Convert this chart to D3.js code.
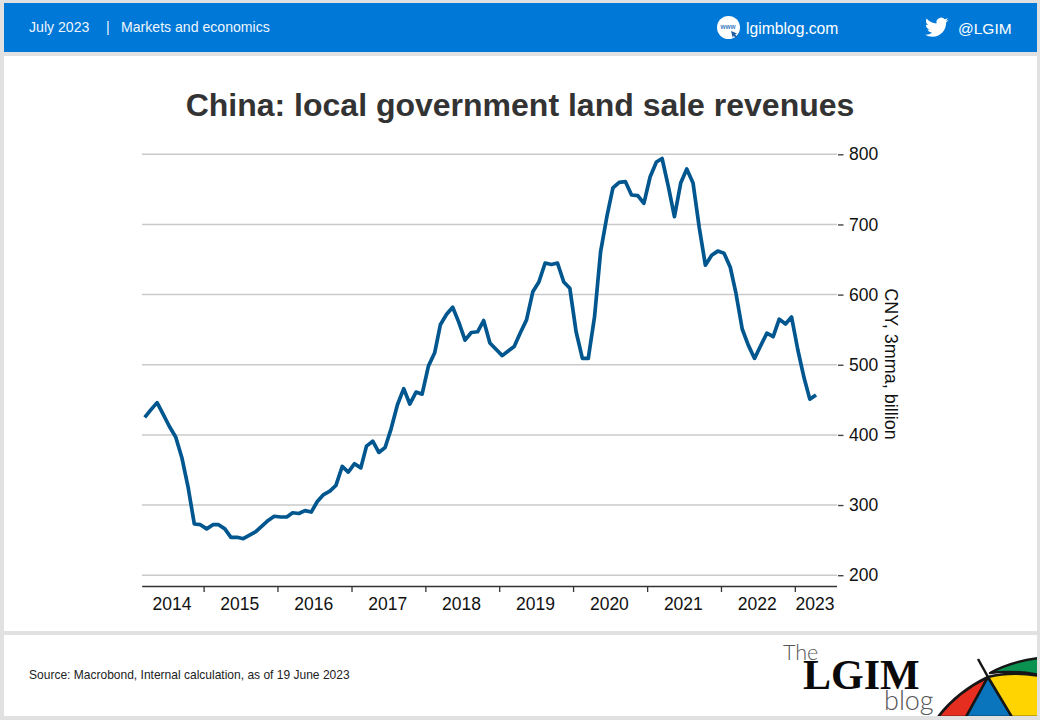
<!DOCTYPE html>
<html>
<head>
<meta charset="utf-8">
<script src="https://cdn.jsdelivr.net/npm/d3@7"></script>
<style>
  html, body { margin: 0; padding: 0; background: #e1e1e1; }
  svg { display: block; font-family: "Liberation Sans", Arial, sans-serif; }
</style>
</head>
<body>
<div id="chart"></div>
<script>
// monthly, 3mma, CNY bn, Mar 2014 to Apr 2023
var revenues = [
  425, 436, 446, 429, 412, 397, 367, 326, 273, 272,
  266, 272, 272, 266, 254, 254, 252, 257, 262, 270,
  278, 284, 283, 283, 289, 288, 292, 290, 305, 315,
  320, 328, 355, 347, 359, 353, 384, 391, 375, 382,
  409, 443, 466, 444, 461, 458, 498, 517, 557, 572,
  582, 560, 535, 546, 547, 563, 531, 522, 513, 520,
  526, 546, 564, 604, 618, 645, 643, 645, 618, 609,
  547, 509, 509, 568, 661, 711, 752, 760, 761, 742,
  741, 730, 768, 789, 794, 754, 711, 759, 779, 759,
  695, 642, 656, 662, 659, 639, 602, 551, 528, 509,
  527, 545, 540, 565, 558, 568, 521, 481, 451, 457
];
var yearLabels = ["2014", "2015", "2016", "2017", "2018", "2019", "2020", "2021", "2022", "2023"];
var yTicks = [200, 300, 400, 500, 600, 700, 800];

var titleText = "China: local government land sale revenues";
var axisTitle = "CNY, 3mma, billion";
var sourceText = "Source: Macrobond, Internal calculation, as of 19 June 2023";

var width = 1040, height = 720;

var svg = d3.select("#chart").append("svg")
    .attr("width", width)
    .attr("height", height);

// page panels
svg.append("rect").attr("width", width).attr("height", height).attr("fill", "#e1e1e1");
svg.append("rect").attr("x", 4).attr("y", 3).attr("width", 1033).attr("height", 49).attr("fill", "#0078d7");
svg.append("rect").attr("x", 4).attr("y", 56).attr("width", 1033).attr("height", 575).attr("fill", "#fff");
svg.append("rect").attr("x", 4).attr("y", 635).attr("width", 1033).attr("height", 81).attr("fill", "#fff");

// header
var header = svg.append("g").attr("fill", "#eef5fc");
header.append("text").attr("x", 29).attr("y", 32).attr("font-size", 14.1).text("July 2023");
header.append("text").attr("x", 106).attr("y", 32).attr("font-size", 14.1).text("|");
header.append("text").attr("x", 121).attr("y", 32).attr("font-size", 14.1).text("Markets and economics");
header.append("text").attr("x", 746).attr("y", 34).attr("font-size", 15.7).attr("fill", "#fff").text("lgimblog.com");
header.append("text").attr("x", 958).attr("y", 34).attr("font-size", 15.5).attr("fill", "#fff").text("@LGIM");

header.append("circle").attr("cx", 728.5).attr("cy", 27.5).attr("r", 11.5).attr("fill", "#fff");
header.append("text").attr("x", 728).attr("y", 29).attr("text-anchor", "middle")
    .attr("font-size", 6.5).attr("font-weight", "bold").attr("fill", "#3f7fc4").text("www");
header.append("path").attr("d", "M731 31l6 2.5-2 1 2 2-1.2 1.2-2-2-1 2z").attr("fill", "#1d5c9e");

header.append("path")
    .attr("transform", "translate(925,15.5) scale(0.98)")
    .attr("fill", "#fff")
    .attr("d", "M23.953 4.57a10 10 0 01-2.825.775 4.958 4.958 0 002.163-2.723c-.951.555-2.005.959-3.127 1.184a4.92 4.92 0 00-8.384 4.482C7.69 8.095 4.067 6.13 1.64 3.162a4.822 4.822 0 00-.666 2.475c0 1.71.87 3.213 2.188 4.096a4.904 4.904 0 01-2.228-.616v.06a4.923 4.923 0 003.946 4.827 4.996 4.996 0 01-2.212.085 4.936 4.936 0 004.604 3.417 9.867 9.867 0 01-6.102 2.105c-.39 0-.779-.023-1.17-.067a13.995 13.995 0 007.557 2.209c9.053 0 13.998-7.496 13.998-13.985 0-.21 0-.42-.015-.63A9.935 9.935 0 0024 4.59z");

// title
svg.append("text")
    .attr("x", 520).attr("y", 116)
    .attr("text-anchor", "middle")
    .attr("font-size", 32).attr("font-weight", "bold")
    .attr("fill", "#333")
    .text(titleText);

// scales
var startDate = new Date(Date.UTC(2014, 2, 1));
var endDate = new Date(Date.UTC(2023, 6, 26));
var months = d3.utcMonth.range(startDate, new Date(Date.UTC(2023, 4, 1)));
var years = d3.utcYear.range(new Date(Date.UTC(2015, 0, 1)), new Date(Date.UTC(2024, 0, 1)));

var x = d3.scaleUtc().domain([startDate, endDate]).range([141.7, 836.5]);
var y = d3.scaleLinear().domain([200, 800]).range([575.2, 154.3]);

// grid
svg.append("g")
    .selectAll("line")
    .data(yTicks)
    .enter().append("line")
      .attr("x1", 142).attr("x2", 837)
      .attr("y1", function(d) { return y(d); })
      .attr("y2", function(d) { return y(d); })
      .attr("stroke", "#cacaca")
      .attr("stroke-width", 1.5);

// right axis
var yAxis = svg.append("g")
    .attr("transform", "translate(838,0)")
    .call(d3.axisRight(y).tickValues(yTicks).tickSize(5.5).tickPadding(5.5));
yAxis.select(".domain").remove();
yAxis.selectAll(".tick line").attr("stroke", "#444").attr("stroke-width", 1.4);
yAxis.selectAll(".tick text")
    .attr("font-family", "Liberation Sans, Arial, sans-serif")
    .attr("font-size", 17.5).attr("fill", "#111");

svg.append("text")
    .attr("transform", "translate(885,364) rotate(90)")
    .attr("text-anchor", "middle")
    .attr("font-size", 18).attr("fill", "#111")
    .text(axisTitle);

// bottom axis, labels sit between the year ticks
var xAxis = svg.append("g")
    .attr("transform", "translate(0,586)")
    .call(d3.axisBottom(x).tickValues(years.slice(0, 9)).tickSize(6).tickSizeOuter(0).tickFormat(""));
xAxis.select(".domain").attr("stroke", "#333").attr("stroke-width", 1.4);
xAxis.selectAll(".tick line").attr("stroke", "#333").attr("stroke-width", 1.3);

var edges = [startDate].concat(years.slice(0, 9), [endDate]);
svg.append("g")
    .selectAll("text")
    .data(yearLabels)
    .enter().append("text")
      .attr("x", function(d, i) { return (x(edges[i]) + x(edges[i + 1])) / 2 - 0.7; })
      .attr("y", 610)
      .attr("text-anchor", "middle")
      .attr("font-size", 17.5)
      .attr("fill", "#111")
      .text(function(d) { return d; });

// series, each value plotted mid month
var line = d3.line()
    .x(function(d, i) { return x(d3.utcDay.offset(months[i], 15)); })
    .y(function(d) { return y(d); });

svg.append("path")
    .datum(revenues)
    .attr("fill", "none")
    .attr("stroke", "#00568f")
    .attr("stroke-width", 3.7)
    .attr("stroke-linejoin", "round")
    .attr("d", line);

// footer
svg.append("text")
    .attr("x", 29).attr("y", 679)
    .attr("font-size", 12.03).attr("fill", "#222")
    .text(sourceText);

// logo
var logo = svg.append("g");
logo.append("text").attr("x", 783).attr("y", 660)
    .attr("font-size", 21.5).attr("font-weight", 300).attr("font-family", "Lato, sans-serif")
    .attr("fill", "#555").text("The");
logo.append("text").attr("x", 803).attr("y", 689)
    .attr("font-size", 42).attr("font-weight", "bold").attr("font-family", "Liberation Serif, serif")
    .attr("fill", "#0a0a0a").text("LGIM");
logo.append("text").attr("x", 884).attr("y", 710)
    .attr("font-size", 27).attr("font-weight", 300).attr("font-family", "Lato, sans-serif")
    .attr("fill", "#555").text("blog");

var clip = svg.append("clipPath").attr("id", "logo-clip");
clip.append("rect").attr("x", 900).attr("y", 635).attr("width", 137).attr("height", 81);

var brella = svg.append("g").attr("clip-path", "url(#logo-clip)");
var wedges = [
  { fill: "#e52d20", d: "M938 717Q957 692 988 677L966 717Z" },
  { fill: "#0a74bd", d: "M966 717L988 677L1012 717Z" },
  { fill: "#ffd400", d: "M988 677L1012 717L1040 717L1040 676Q1012 671 988 677Z" },
  { fill: "#0b9150", d: "M990 673Q1012 661 1040 658L1040 675Q1012 670 990 673Z" }
];
brella.selectAll("path.wedge")
    .data(wedges)
    .enter().append("path")
      .attr("class", "wedge")
      .attr("d", function(d) { return d.d; })
      .attr("fill", function(d) { return d.fill; })
      .attr("stroke", "#161616")
      .attr("stroke-width", 2.5)
      .attr("stroke-linejoin", "round");
brella.append("path").attr("d", "M978 659L988 677").attr("stroke", "#161616").attr("stroke-width", 2.5);
</script>
</body>
</html>
